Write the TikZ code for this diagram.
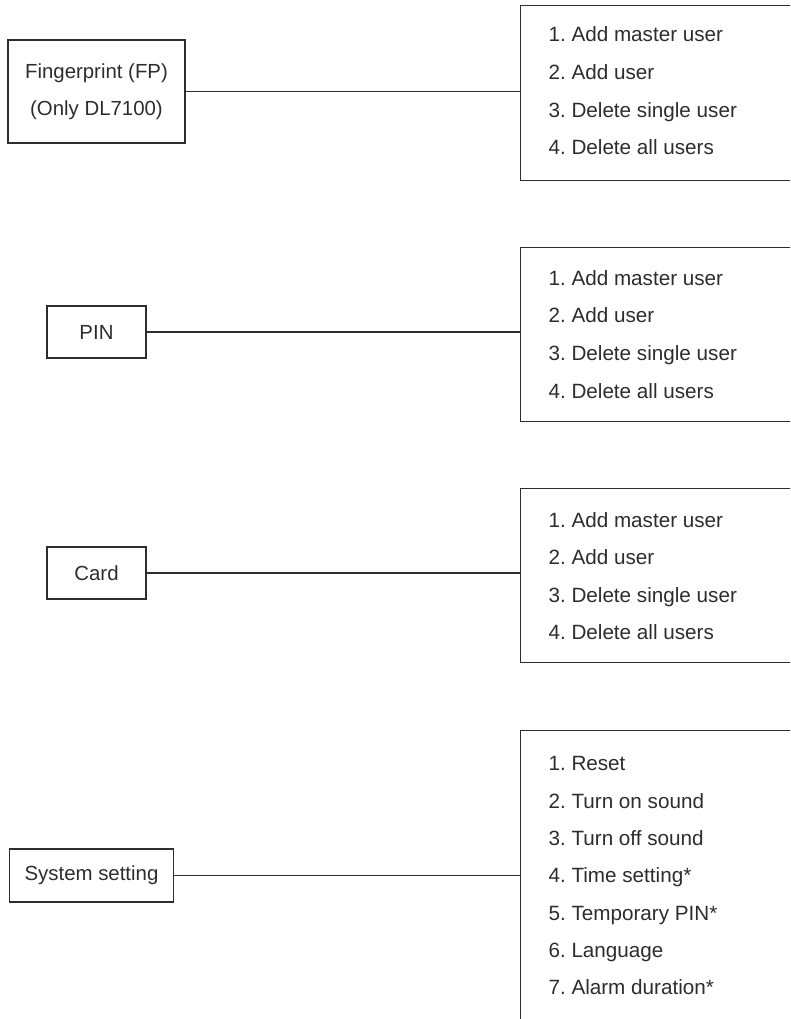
\documentclass[tikz,border=0pt]{standalone}
\usepackage{fontspec}
\setmainfont{Liberation Sans}
\frenchspacing

\definecolor{inkgrey}{RGB}{45,45,45}
\tikzset{every picture/.style={line width=0.8pt}}
\tikzset{
  keybox/.style={draw=inkgrey, text=inkgrey, align=center, inner sep=0.75pt, font=\fontsize{15.3}{27.75}\selectfont},
  menubox/.style={draw=inkgrey, anchor=north west, inner sep=0pt, minimum width=225pt},
  menuitem/.style={anchor=base west, text=inkgrey, inner sep=0.75pt, font=\fontsize{15.5}{18}\selectfont},
  link/.style={draw=inkgrey}
}

\begin{document}
\begin{tikzpicture}[x=0.75pt,y=0.75pt,yscale=-1,xscale=1]
\useasboundingbox (0,0) rectangle (790,1019);
\clip (0,0) rectangle (790,1019);

%Shape: Rectangle [id:fp]
\draw (96.5,91.5) node [keybox, minimum width=132.75pt, minimum height=77.25pt] (fp) {Fingerprint (FP)\\(Only DL7100)};
%Shape: Rectangle [id:pin]
\draw (96.5,332) node [keybox, minimum width=74.25pt, minimum height=39pt] (pin) {PIN};
%Shape: Rectangle [id:card]
\draw (96.5,573) node [keybox, minimum width=74.25pt, minimum height=39pt] (card) {Card};
%Shape: Rectangle [id:sys]
\draw (91.5,875.5) node [keybox, minimum width=123pt, minimum height=39.75pt] (sys) {System setting};

%Shape: Rectangle [id:menufp]
\draw (520,5) node [menubox, minimum height=131.25pt] (menufp) {};
%Shape: Rectangle [id:menupin]
\draw (520,247) node [menubox, minimum height=130.5pt] (menupin) {};
%Shape: Rectangle [id:menucard]
\draw (520,488) node [menubox, minimum height=130.5pt] (menucard) {};
%Shape: Rectangle [id:menusys]
\draw (520,730) node [menubox, minimum height=240pt] (menusys) {};

%Straight Lines [id:fp-menu]
\draw [link] (fp.east) -- (fp.east -| menufp.west) ;
%Straight Lines [id:pin-menu]
\draw [link] (pin.east) -- (pin.east -| menupin.west) ;
%Straight Lines [id:card-menu]
\draw [link] (card.east) -- (card.east -| menucard.west) ;
%Straight Lines [id:sys-menu]
\draw [link] (sys.east) -- (sys.east -| menusys.west) ;

% Text Node
\draw (547,42) node [menuitem] (fp1) {1. Add master user};
% Text Node
\draw (547,80) node [menuitem] (fp2) {2. Add user};
% Text Node
\draw (547,118) node [menuitem] (fp3) {3. Delete single user};
% Text Node
\draw (547,155) node [menuitem] (fp4) {4. Delete all users};

% Text Node
\draw (547,286) node [menuitem] (pin1) {1. Add master user};
% Text Node
\draw (547,323) node [menuitem] (pin2) {2. Add user};
% Text Node
\draw (547,360) node [menuitem] (pin3) {3. Delete single user};
% Text Node
\draw (547,398) node [menuitem] (pin4) {4. Delete all users};

% Text Node
\draw (547,527) node [menuitem] (card1) {1. Add master user};
% Text Node
\draw (547,564) node [menuitem] (card2) {2. Add user};
% Text Node
\draw (547,602) node [menuitem] (card3) {3. Delete single user};
% Text Node
\draw (547,639) node [menuitem] (card4) {4. Delete all users};

% Text Node
\draw (547,770) node [menuitem] (sys1) {1. Reset};
% Text Node
\draw (547,808) node [menuitem] (sys2) {2. Turn on sound};
% Text Node
\draw (547,845) node [menuitem] (sys3) {3. Turn off sound};
% Text Node
\draw (547,882) node [menuitem] (sys4) {4. Time setting*};
% Text Node
\draw (547,920) node [menuitem] (sys5) {5. Temporary PIN*};
% Text Node
\draw (547,957) node [menuitem] (sys6) {6. Language};
% Text Node
\draw (547,994) node [menuitem] (sys7) {7. Alarm duration*};

\end{tikzpicture}
\end{document}
